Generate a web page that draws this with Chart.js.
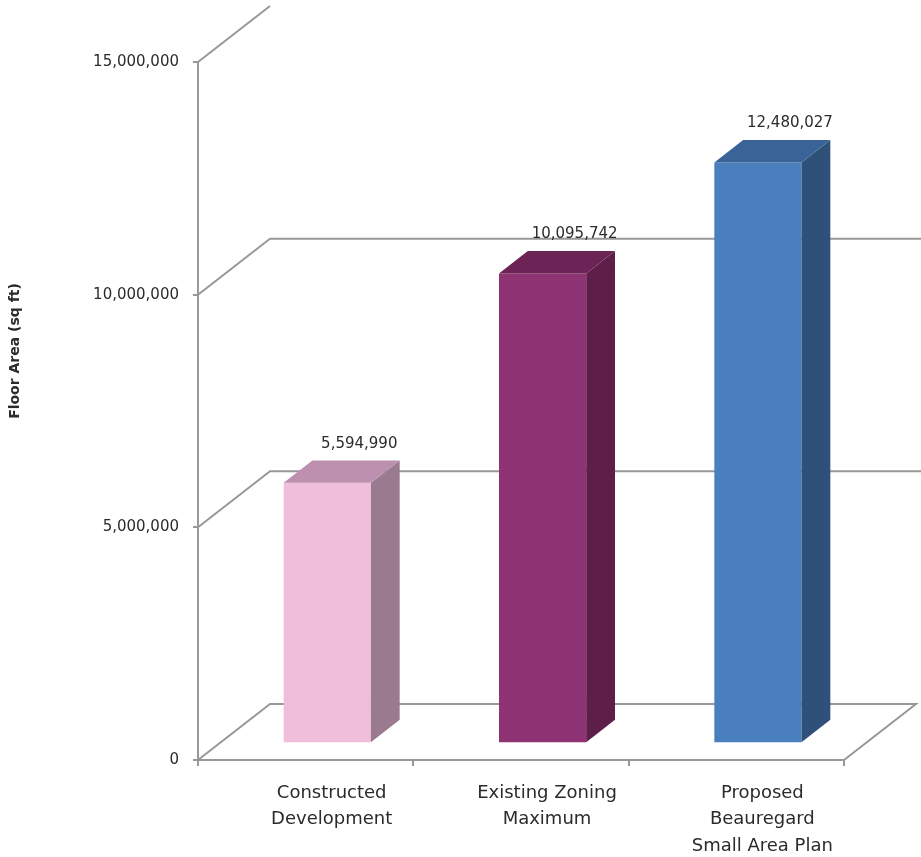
<!DOCTYPE html>
<html>
<head>
<meta charset="utf-8">
<script src="https://cdn.jsdelivr.net/npm/chart.js@4"></script>
<style>
    body { margin: 0; background: #fff; }
    #wrap { width: 921px; height: 857px; position: relative; }
</style>
</head>
<body>
<div id="wrap"><canvas id="floorChart"></canvas></div>
<script>
const categories = [["Constructed", "Development"], ["Existing Zoning", "Maximum"], ["Proposed", "Beauregard", "Small Area Plan"]];
const floorArea = [5594990, 10095742, 12480027];
const yTicks = [0, 5000000, 10000000, 15000000];

const frontColors = ["#f0bedb", "#8e3373", "#4a7fbe"];
const sideColors = ["#9a7a8f", "#5d1f4a", "#2e5079"];
const topColors = ["#bc90ae", "#6c2456", "#3a6498"];

// depth of the 3d box, bars sit in the middle of it
const depthX = 72, depthY = -56;
const barOffX = depthX * 0.3, barOffY = depthY * 0.3;
const barDX = depthX * 0.4, barDY = depthY * 0.4;
const lineGray = "#989898";
const textGray = "#2b2b2b";

const fakeThreeD = {
    id: "fakeThreeD",
    beforeDatasetsDraw(chart) {
        const ctx = chart.ctx;
        const area = chart.chartArea;
        const y = chart.scales.y;
        ctx.save();
        ctx.strokeStyle = lineGray;
        ctx.lineWidth = 2;
        ctx.beginPath();
        for (let i = 0; i < yTicks.length; i++) {
            const py = y.getPixelForValue(yTicks[i]);
            ctx.moveTo(area.left, py);
            ctx.lineTo(area.left + depthX, py + depthY);
            if (yTicks[i] == 0) {
                ctx.lineTo(area.right + depthX, py + depthY);
                ctx.lineTo(area.right, py);
            } else if (i < yTicks.length - 1) {
                ctx.lineTo(chart.width, py + depthY);
            }
        }
        ctx.stroke();
        ctx.restore();
        // move the bars into the middle of the floor
        ctx.save();
        ctx.translate(barOffX, barOffY);
    },
    afterDatasetsDraw(chart) {
        const ctx = chart.ctx;
        const bars = chart.getDatasetMeta(0).data;
        for (let i = 0; i < bars.length; i++) {
            const b = bars[i];
            const left = b.x - b.width / 2, right = b.x + b.width / 2;
            ctx.fillStyle = sideColors[i];
            ctx.beginPath();
            ctx.moveTo(right, b.y);
            ctx.lineTo(right + barDX, b.y + barDY);
            ctx.lineTo(right + barDX, b.base + barDY);
            ctx.lineTo(right, b.base);
            ctx.closePath();
            ctx.fill();
            ctx.fillStyle = topColors[i];
            ctx.beginPath();
            ctx.moveTo(left, b.y);
            ctx.lineTo(left + barDX, b.y + barDY);
            ctx.lineTo(right + barDX, b.y + barDY);
            ctx.lineTo(right, b.y);
            ctx.closePath();
            ctx.fill();

            ctx.fillStyle = textGray;
            ctx.font = "15px 'DejaVu Sans'";
            ctx.textAlign = "center";
            ctx.textBaseline = "middle";
            ctx.fillText(floorArea[i].toLocaleString("en-US"), b.x + 32, b.y - 39);
        }
        ctx.restore();
    },
    afterDraw(chart) {
        const ctx = chart.ctx;
        ctx.save();
        ctx.translate(15, 351);
        ctx.rotate(-Math.PI / 2);
        ctx.fillStyle = textGray;
        ctx.font = "bold 14px 'DejaVu Sans'";
        ctx.textAlign = "center";
        ctx.textBaseline = "middle";
        ctx.fillText("Floor Area (sq ft)", 0, 0);
        ctx.restore();
    }
};

document.addEventListener("DOMContentLoaded", () => {
    const floorChart = new Chart(document.getElementById("floorChart"), {
        type: "bar",
        data: {
            labels: categories,
            datasets: [{
                label: "Floor Area (sq ft)",
                data: floorArea,
                backgroundColor: frontColors,
                categoryPercentage: 1,
                barPercentage: 0.405,
                clip: false
            }]
        },
        options: {
            responsive: true,
            maintainAspectRatio: false,
            animation: false,
            layout: {padding: {left: 0, top: 62, right: 77, bottom: 0}},
            plugins: {legend: {display: false}, tooltip: {enabled: false}},
            scales: {
                x: {
                    grid: {drawOnChartArea: false, drawTicks: true, tickLength: 6, color: lineGray, lineWidth: 2},
                    border: {display: true, color: lineGray, width: 2},
                    ticks: {
                        color: textGray,
                        font: {family: "'DejaVu Sans'", size: 18, lineHeight: 1.47},
                        padding: 14,
                        labelOffset: 26,
                        maxRotation: 0,
                        autoSkip: false
                    },
                    afterFit(scale) { scale.height = 97; }
                },
                y: {
                    min: 0,
                    max: 15000000,
                    afterBuildTicks(scale) { scale.ticks = yTicks.map(v => ({value: v})); },
                    grid: {drawOnChartArea: false, drawTicks: true, tickLength: 5, color: lineGray, lineWidth: 2},
                    border: {display: true, color: lineGray, width: 2},
                    ticks: {
                        color: textGray,
                        font: {family: "'DejaVu Sans'", size: 15},
                        padding: 14,
                        callback: v => v.toLocaleString("en-US")
                    },
                    afterFit(scale) { scale.width = 198; }
                }
            }
        },
        plugins: [fakeThreeD]
    });
});
</script>
</body>
</html>
